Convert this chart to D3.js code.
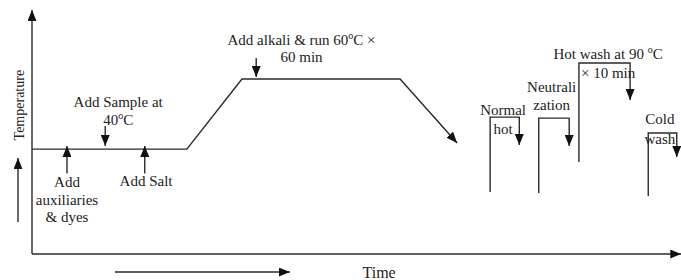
<!DOCTYPE html>
<html>
<head>
<meta charset="utf-8">
<script src="https://cdn.jsdelivr.net/npm/d3@7"></script>
<style>
  body { margin: 0; background: #fff; }
</style>
</head>
<body>
<script>
// process profile, time (arbitrary units 0-100) vs temperature (arbitrary units 0-100)
var profileTime = [0, 23.9, 32.4, 56.8, 65.6];
var profileTemp = [43, 43, 71.7, 71.7, 45.5];

// arrows on the dyeing curve
var markerNames = ["aux", "sample", "salt", "alkali"];
var markerTime = [5.4, 11.3, 17.4, 34.6];
var markerFrom = [33, 52.5, 33, 80.3];
var markerTo = [44.3, 44.3, 44.3, 72.5];

// washing steps: start/end time, bottom, top, arrow tip
var washNames = ["normal", "neutral", "hotwash", "cold"];
var washStart = [70.7, 78.2, 84.4, 95.1];
var washEnd = [75.2, 82.9, 92.3, 99.5];
var washBottom = [25.4, 25, 37.7, 23.8];
var washTop = [56.1, 55.7, 78.3, 49.6];
var washTip = [44.7, 44.3, 63.1, 39.8];

// labels: lines of text ("|o|" marks a superscript o), centre time, centre temp of first line
var labelLines = [
  ["Add", "auxiliaries", "& dyes"],
  ["Add Sample at", "40|o|C"],
  ["Add Salt"],
  ["Add alkali & run 60|o|C \u00d7", "60 min"],
  ["Normal", "hot"],
  ["Neutrali", "zation"],
  ["Hot wash at 90 |o|C", "\u00d7 10 min"],
  ["Cold", "wash"]
];
var labelTime = [5.4, 13.3, 17.6, 41.6, 72.7, 80.2, 88.9, 96.9];
var labelTemp = [29.5, 62.3, 29.9, 87.7, 59, 68.4, 82, 55.3];
var labelGap = [17.5, 18, 0, 17, 19, 18, 19, 20];

var width = 681, height = 280;
var serif = "'Liberation Serif', 'Times New Roman', serif";

var x = d3.scaleLinear().domain([0, 100]).range([32, 680]);
var y = d3.scaleLinear().domain([0, 100]).range([254, 10]);

var svg = d3.select("body").append("svg")
    .attr("width", width)
    .attr("height", height)
    .attr("font-family", serif);

var defs = svg.append("defs");
defs.append("marker")
    .attr("id", "head")
    .attr("viewBox", "0 0 11 9")
    .attr("refX", 11).attr("refY", 4.5)
    .attr("markerWidth", 11).attr("markerHeight", 9)
    .attr("markerUnits", "userSpaceOnUse")
    .attr("orient", "auto")
  .append("path")
    .attr("d", "M0,0L11,4.5L0,9Z")
    .attr("fill", "#111");

var ink = "#2a2a2a";

// axes
svg.append("line")
    .attr("x1", x(0)).attr("y1", y(0))
    .attr("x2", x(0)).attr("y2", y(100))
    .attr("stroke", ink).attr("stroke-width", 1.4)
    .attr("marker-end", "url(#head)");
svg.append("line")
    .attr("x1", x(0)).attr("y1", y(0))
    .attr("x2", x(100.2)).attr("y2", y(0))
    .attr("stroke", ink).attr("stroke-width", 1.4)
    .attr("marker-end", "url(#head)");

// temperature label and arrow
svg.append("text")
    .attr("transform", "translate(19," + y(61) + ") rotate(-90)")
    .attr("text-anchor", "middle")
    .attr("dy", "0.35em")
    .attr("font-family", serif)
    .attr("font-size", 14)
    .attr("fill", "#222")
    .text("Temperature");
svg.append("line")
    .attr("x1", 18).attr("y1", y(13.1))
    .attr("x2", 18).attr("y2", y(39.3))
    .attr("stroke", ink).attr("stroke-width", 1.4)
    .attr("marker-end", "url(#head)");

// time label and arrow
svg.append("line")
    .attr("x1", x(12.8)).attr("y1", y(-7.4))
    .attr("x2", x(39.8)).attr("y2", y(-7.4))
    .attr("stroke", ink).attr("stroke-width", 1.4)
    .attr("marker-end", "url(#head)");
svg.append("text")
    .attr("x", x(51)).attr("y", y(-7.4))
    .attr("dy", "0.4em")
    .attr("font-family", serif)
    .attr("font-size", 16)
    .attr("fill", "#222")
    .text("Time");

// profile
var pts = profileTime.map(function(t, i) { return [x(t), y(profileTemp[i])]; });
svg.append("path")
    .attr("d", d3.line()(pts))
    .attr("fill", "none")
    .attr("stroke", ink).attr("stroke-width", 1.4)
    .attr("marker-end", "url(#head)");

// marker arrows
svg.selectAll(".mk")
  .data(markerNames)
  .enter().append("line")
    .attr("class", "mk")
    .attr("x1", function(d, i) { return x(markerTime[i]); })
    .attr("x2", function(d, i) { return x(markerTime[i]); })
    .attr("y1", function(d, i) { return y(markerFrom[i]); })
    .attr("y2", function(d, i) { return y(markerTo[i]); })
    .attr("stroke", ink).attr("stroke-width", 1.4)
    .attr("marker-end", "url(#head)");

// wash steps
svg.selectAll(".wash")
  .data(washNames)
  .enter().append("path")
    .attr("class", "wash")
    .attr("d", function(d, i) {
      return d3.line()([
        [x(washStart[i]), y(washBottom[i])],
        [x(washStart[i]), y(washTop[i])],
        [x(washEnd[i]), y(washTop[i])],
        [x(washEnd[i]), y(washTip[i])]
      ]);
    })
    .attr("fill", "none")
    .attr("stroke", ink).attr("stroke-width", 1.4)
    .attr("marker-end", "url(#head)");

// labels
labelLines.forEach(function(lines, i) {
  lines.forEach(function(line, j) {
    var t = svg.append("text")
        .attr("x", x(labelTime[i]))
        .attr("y", y(labelTemp[i]) + j * labelGap[i])
        .attr("dy", "0.35em")
        .attr("text-anchor", "middle")
        .attr("font-family", serif)
        .attr("font-size", 15)
        .attr("fill", "#222");
    line.split("|").forEach(function(part, k) {
      var s = t.append("tspan").text(part);
      if (k === 1) s.attr("font-size", 10).attr("dy", "-0.6em");
      if (k === 2) s.attr("dy", "0.4em");
    });
  });
});
</script>
</body>
</html>
